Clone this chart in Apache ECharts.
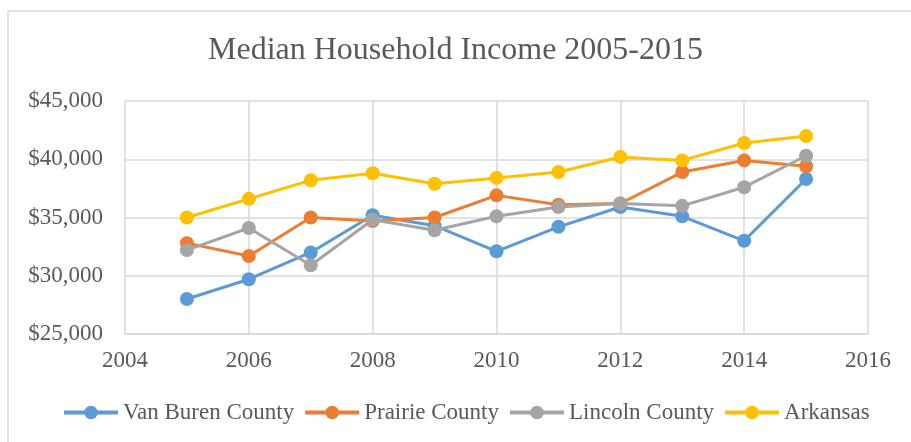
<!DOCTYPE html>
<html>
<head>
<meta charset="utf-8">
<script src="https://cdn.jsdelivr.net/npm/echarts@6/dist/echarts.min.js"></script>
<style>
  html, body { margin: 0; padding: 0; background: #fff; }
  #chart { width: 911px; height: 442px; }
</style>
</head>
<body>
<div id="chart"></div>
<script>
// values
const years = [2005, 2006, 2007, 2008, 2009, 2010, 2011, 2012, 2013, 2014, 2015];
const vanBuren = [28000, 29700, 32000, 35200, 34300, 32100, 34200, 35900, 35100, 33000, 38300];
const prairie  = [32800, 31700, 35000, 34700, 35000, 36900, 36100, 36200, 38900, 39900, 39400];
const lincoln  = [32200, 34100, 30900, 34800, 33900, 35100, 35900, 36200, 36000, 37600, 40300];
const arkansas = [35000, 36600, 38200, 38800, 37900, 38400, 38900, 40200, 39900, 41400, 42000];

const seriesNames = ['Van Buren County', 'Prairie County', 'Lincoln County', 'Arkansas'];
const seriesColors = ['#5B9BD5', '#ED7D31', '#A5A5A5', '#FFC000'];

const font = '"Liberation Serif", "Times New Roman", serif';
const textColor = '#595959';
const gridColor = '#D9D9D9';

const chart = echarts.init(document.getElementById('chart'), null, { renderer: 'canvas' });

const makeSeries = (name, values, color) => ({
  name,
  type: 'line',
  data: years.map((y, i) => [y, values[i]]),
  symbol: 'circle',
  symbolSize: 14,
  showSymbol: true,
  lineStyle: { width: 3, color },
  itemStyle: { color },
  emphasis: { disabled: true },
  animation: false,
});

chart.setOption({
  backgroundColor: '#fff',
  animation: false,
  title: {
    text: 'Median Household Income 2005-2015',
    left: 'center',
    top: 30,
    textStyle: { fontFamily: font, fontSize: 32, fontWeight: 'normal', color: textColor },
  },
  legend: {
    left: 57,
    top: 396,
    itemWidth: 54,
    itemHeight: 17,
    itemGap: 9,
    lineStyle: { width: 4 },
    textStyle: { fontFamily: font, fontSize: 23, color: textColor },
    data: seriesNames,
  },
  grid: { left: 125, right: 43, top: 101, bottom: 108, containLabel: false },
  xAxis: {
    type: 'value',
    min: 2004,
    max: 2016,
    interval: 2,
    axisLine: { show: true, lineStyle: { color: gridColor, width: 1.5 } },
    axisTick: { show: false },
    splitLine: { show: true, lineStyle: { color: gridColor, width: 1.5 } },
    axisLabel: {
      fontFamily: font, fontSize: 23, color: textColor, margin: 15,
      formatter: v => String(v),
    },
  },
  yAxis: {
    type: 'value',
    min: 25000,
    max: 45000,
    interval: 5000,
    axisLine: { show: false },
    axisTick: { show: false },
    splitLine: { show: true, lineStyle: { color: gridColor, width: 1.5 } },
    axisLabel: {
      fontFamily: font, fontSize: 23, color: textColor, margin: 22,
      formatter: v => '$' + v.toLocaleString('en-US'),
    },
  },
  graphic: [{
    type: 'rect',
    shape: { x: 8, y: 11, width: 920, height: 450 },
    style: { fill: 'none', stroke: gridColor, lineWidth: 1.5 },
    silent: true,
    z: -10,
  }],
  series: [
    makeSeries(seriesNames[0], vanBuren, seriesColors[0]),
    makeSeries(seriesNames[1], prairie, seriesColors[1]),
    makeSeries(seriesNames[2], lincoln, seriesColors[2]),
    makeSeries(seriesNames[3], arkansas, seriesColors[3]),
  ],
});
</script>
</body>
</html>
